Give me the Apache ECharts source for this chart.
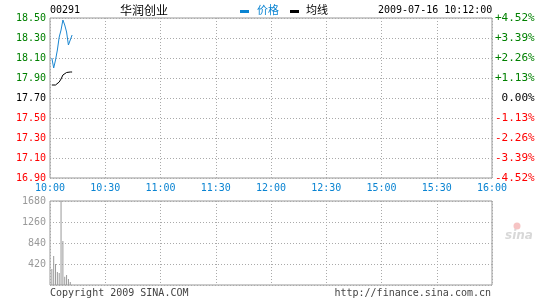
<!DOCTYPE html>
<html><head><meta charset="utf-8">
<script src="https://cdn.jsdelivr.net/npm/echarts@6/dist/echarts.min.js"></script>
<style>html,body{margin:0;padding:0;background:#fff}#c{width:545px;height:300px}</style>
</head><body><div id="c"></div>
<script>
// ---- data ----
const minutes = [1, 2, 3, 4, 5, 6, 7, 8, 9, 10, 11, 12];
const price   = [18.10, 18.00, 18.08, 18.18, 18.31, 18.38, 18.48, 18.43, 18.36, 18.23, 18.28, 18.33];
const avgLine = [17.83, 17.83, 17.83, 17.83, 17.86, 17.89, 17.93, 17.95, 17.955, 17.957, 17.96, 17.96];
const volMinutes = [1, 2, 3, 4, 5, 6, 7, 8, 9, 10, 11];
const volume  = [320, 580, 420, 260, 240, 1700, 880, 165, 200, 120, 60];
const timeLabels  = ['10:00','10:30','11:00','11:30','12:00','12:30','15:00','15:30','16:00'];
const priceLabels = ['16.90','17.10','17.30','17.50','17.70','17.90','18.10','18.30','18.50'];
const pctLabels   = ['-4.52%','-3.39%','-2.26%','-1.13%','0.00%','+1.13%','+2.26%','+3.39%','+4.52%'];
const volLabels   = ['0','420','840','1260','1680'];
const stockCode = '00291', stockName = '华润创业', stamp = '2009-07-16 10:12:00';

const MONO = '"DejaVu Sans Mono", "Liberation Mono", monospace';
const CJK = '"Noto Sans CJK SC", sans-serif';
const dotted = {color:'#aaa', type:[1,2], width:1};
function rc(i){ return i>4 ? 'g' : (i<4 ? 'r' : 'k'); }
const rich = {
  g:{color:'#008000', fontFamily:MONO, fontSize:10},
  r:{color:'#ff0000', fontFamily:MONO, fontSize:10},
  k:{color:'#000', fontFamily:MONO, fontSize:10}
};
const richR = {
  g:{color:'#008000', fontFamily:MONO, fontSize:11},
  r:{color:'#ff0000', fontFamily:MONO, fontSize:11},
  k:{color:'#000', fontFamily:MONO, fontSize:11}
};

const chart = echarts.init(document.getElementById('c'), null, {renderer:'canvas'});
chart.setOption({
  animation:false,
  grid:[
    {left:50, top:18, width:442, height:160, show:true, borderColor:'#999', borderWidth:1},
    {left:50, top:201, width:442, height:84, show:true, borderColor:'#999', borderWidth:1}
  ],
  xAxis:[
    {type:'value', gridIndex:0, min:0, max:240, interval:30,
     axisLine:{show:false}, axisTick:{show:false},
     splitLine:{show:true, lineStyle:dotted},
     axisLabel:{margin:5, color:'#0a84d2', fontFamily:MONO, fontSize:10,
       formatter:v=>timeLabels[Math.round(v/30)]}},
    {type:'value', gridIndex:1, min:0, max:240, interval:30,
     axisLine:{show:false}, axisTick:{show:false},
     splitLine:{show:true, lineStyle:dotted}, axisLabel:{show:false}}
  ],
  yAxis:[
    {type:'value', gridIndex:0, min:16.9, max:18.5, interval:0.2, position:'left',
     axisLine:{show:false}, axisTick:{show:false},
     splitLine:{show:true, lineStyle:dotted},
     axisLabel:{margin:4, rich:rich, formatter:v=>{const i=Math.round((v-16.9)/0.2);return '{'+rc(i)+'|'+priceLabels[i]+'}';}}},
    {type:'value', gridIndex:0, min:-4.52, max:4.52, interval:1.13, position:'right',
     axisLine:{show:false}, axisTick:{show:false}, splitLine:{show:false},
     axisLabel:{margin:3, align:'left', rich:richR, formatter:v=>{const i=Math.round((v+4.52)/1.13);const s=pctLabels[i];return '{'+rc(i)+'|'+(i===4?' '+s:s)+'}';}}},
    {type:'value', gridIndex:1, min:0, max:1680, interval:420,
     axisLine:{show:false}, axisTick:{show:false},
     splitLine:{show:true, lineStyle:dotted},
     axisLabel:{margin:4, color:'#999', fontFamily:MONO, fontSize:10, showMinLabel:false,
       formatter:v=>volLabels[Math.round(v/420)]}}
  ],
  series:[
    {type:'line', xAxisIndex:0, yAxisIndex:0, showSymbol:false, symbol:'none',
     lineStyle:{color:'#1a86d0', width:1}, data:minutes.map((m,i)=>[m,price[i]])},
    {type:'line', xAxisIndex:0, yAxisIndex:0, showSymbol:false, symbol:'none',
     lineStyle:{color:'#000', width:1}, data:minutes.map((m,i)=>[m,avgLine[i]])},
    {type:'bar', xAxisIndex:1, yAxisIndex:2, barWidth:1, clip:true,
     itemStyle:{color:'#999'}, data:volMinutes.map((m,i)=>[m,volume[i]])}
  ],
  graphic:[
    {type:'text', left:50, top:5, style:{text:stockCode, font:'10px '+MONO, fill:'#000'}},
    {type:'text', left:120, top:4, style:{text:stockName, font:'12px '+CJK, fill:'#000'}},
    {type:'rect', shape:{x:240, y:10, width:9, height:3}, style:{fill:'#0a84d2'}},
    {type:'text', left:257, top:4, style:{text:'价格', font:'11px '+CJK, fill:'#0a84d2'}},
    {type:'rect', shape:{x:290, y:10, width:9, height:3}, style:{fill:'#000'}},
    {type:'text', left:306, top:4, style:{text:'均线', font:'11px '+CJK, fill:'#000'}},
    {type:'text', left:378, top:5, style:{text:stamp, font:'10px '+MONO, fill:'#000'}},
    {type:'text', left:50, top:288, style:{text:'Copyright 2009 SINA.COM', font:'10px '+MONO, fill:'#444'}},
    {type:'text', right:54, top:288, style:{text:'http://finance.sina.com.cn', font:'10px '+MONO, fill:'#444'}},
    {type:'circle', shape:{cx:517, cy:226, r:3.5}, style:{fill:'#f6c4c4'}},
    {type:'text', left:505, top:230, style:{text:'sina', font:'italic bold 12px "DejaVu Sans", sans-serif', fill:'#d8d8d8'}}
  ]
});
</script></body></html>
